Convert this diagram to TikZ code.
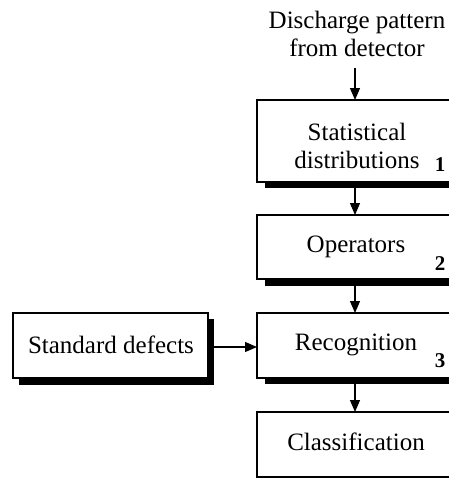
\documentclass[tikz,border=0pt]{standalone}
\usepackage{fontspec}
\setmainfont{Liberation Serif}
\usetikzlibrary{arrows.meta}
\begin{document}
\begin{tikzpicture}[x=1pt,y=-1pt,
  txt/.style={font=\fontsize{25}{28}\selectfont, align=center, inner sep=0pt},
  num/.style={font=\bfseries\fontsize{21}{24}\selectfont, inner sep=0pt},
  arr/.style={line width=1.2pt, -{Triangle[length=12pt,width=10pt]}},
  boxline/.style={draw=black, line width=1.2pt, fill=white}]
\useasboundingbox (0,0) rectangle (449,479);
\clip (0,0) rectangle (449,479);
% shadows
\fill (265,180) rectangle (470,188);
\fill (265,277) rectangle (470,286);
\fill (265,376) rectangle (470,384);
\fill (19,319) rectangle (214,385);
% boxes
\draw[boxline] (257,100) rectangle (470,182);
\draw[boxline] (257,215) rectangle (470,279);
\draw[boxline] (257,313) rectangle (470,378);
\draw[boxline] (257,412) rectangle (470,477);
\draw[boxline] (13,313) rectangle (208,378);
% coordinates
\coordinate (sTop) at (355,100);
\coordinate (sBot) at (355,188);
\coordinate (oTop) at (355,215);
\coordinate (oBot) at (355,286);
\coordinate (rTop) at (355,313);
\coordinate (rBot) at (355,384);
\coordinate (rLeft) at (257,347);
\coordinate (cTop) at (355,412);
\coordinate (dRight) at (208,347);
\coordinate (inTail) at (355,68);
% texts
\node[txt] (inp) at (357,34) {Discharge pattern\\from detector};
\node[txt] (stat) at (357,146) {Statistical\\distributions};
\node[txt] (op) at (356,247) {Operators};
\node[txt] (rec) at (356,345) {Recognition};
\node[txt] (cls) at (356,442) {Classification};
\node[txt] (std) at (111,345) {Standard defects};
\node[num] (n1) at (440,165) {1};
\node[num] (n2) at (440,264) {2};
\node[num] (n3) at (440,361) {3};
% arrows
\draw[arr] (inTail) -- (sTop);
\draw[arr] (sBot) -- (oTop);
\draw[arr] (oBot) -- (rTop);
\draw[arr] (rBot) -- (cTop);
\draw[arr] (dRight) -- (rLeft);
\end{tikzpicture}
\end{document}
